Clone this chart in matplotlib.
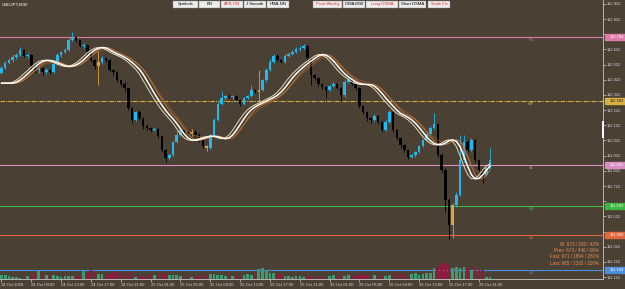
import matplotlib
matplotlib.use("Agg")
import matplotlib.pyplot as plt
from matplotlib.patches import Rectangle
from matplotlib.transforms import blended_transform_factory

plt.rcParams['font.family'] = ['Liberation Sans', 'DejaVu Sans']

# USDJPY M30 candles, 24 Oct 05:00 -> 26 Oct 22:30
first_open = 112.470
closes = [112.500, 112.533, 112.552, 112.572, 112.585, 112.618, 112.579, 112.585, 112.513, 112.487,
          112.500, 112.473, 112.487, 112.473, 112.526, 112.585, 112.605, 112.618, 112.684, 112.704,
          112.684, 112.645, 112.651, 112.605, 112.552, 112.513, 112.539, 112.566, 112.552, 112.487,
          112.473, 112.421, 112.394, 112.368, 112.236, 112.157, 112.210, 112.170, 112.117, 112.104,
          112.091, 112.098, 112.051, 111.959, 111.906, 111.926, 112.012, 112.058, 112.091, 112.078,
          112.065, 112.078, 112.058, 112.025, 111.986, 111.972, 112.058, 112.157, 112.262, 112.302,
          112.315, 112.309, 112.315, 112.289, 112.262, 112.302, 112.315, 112.355, 112.342, 112.355,
          112.421, 112.487, 112.539, 112.579, 112.552, 112.539, 112.579, 112.592, 112.605, 112.625,
          112.632, 112.645, 112.566, 112.454, 112.434, 112.394, 112.374, 112.355, 112.381, 112.394,
          112.368, 112.322, 112.407, 112.421, 112.394, 112.368, 112.249, 112.210, 112.170, 112.157,
          112.183, 112.144, 112.091, 112.144, 112.210, 112.091, 112.038, 111.992, 111.959, 111.913,
          111.926, 111.946, 111.986, 112.025, 112.065, 112.104, 112.131, 111.926, 111.827, 111.630,
          111.465, 111.597, 111.663, 111.893, 112.012, 111.959, 112.025, 111.893, 111.827, 111.794,
          111.841, 111.893]
highs = [112.512, 112.545, 112.566, 112.590, 112.598, 112.640, 112.625, 112.600, 112.592, 112.520,
         112.515, 112.508, 112.497, 112.495, 112.535, 112.598, 112.615, 112.630, 112.700, 112.735,
         112.712, 112.690, 112.662, 112.658, 112.612, 112.560, 112.618, 112.580, 112.575, 112.560,
         112.495, 112.480, 112.430, 112.405, 112.375, 112.245, 112.218, 112.222, 112.180, 112.130,
         112.112, 112.110, 112.105, 112.060, 111.968, 111.940, 112.020, 112.090, 112.100, 112.098,
         112.085, 112.095, 112.088, 112.070, 112.032, 111.995, 112.065, 112.170, 112.275, 112.350,
         112.325, 112.330, 112.325, 112.322, 112.295, 112.310, 112.325, 112.390, 112.362, 112.487,
         112.430, 112.500, 112.560, 112.595, 112.590, 112.560, 112.590, 112.605, 112.620, 112.640,
         112.648, 112.660, 112.652, 112.570, 112.462, 112.440, 112.400, 112.380, 112.390, 112.405,
         112.400, 112.372, 112.420, 112.445, 112.430, 112.400, 112.372, 112.255, 112.218, 112.180,
         112.195, 112.190, 112.150, 112.155, 112.225, 112.215, 112.098, 112.045, 112.000, 111.965,
         111.935, 111.955, 111.995, 112.035, 112.075, 112.118, 112.200, 112.140, 111.940, 111.840,
         111.640, 111.610, 111.680, 112.060, 112.060, 112.025, 112.040, 112.035, 111.900, 111.835,
         111.850, 111.970]
lows = [112.462, 112.490, 112.524, 112.540, 112.560, 112.578, 112.570, 112.566, 112.500, 112.470,
        112.468, 112.455, 112.463, 112.460, 112.465, 112.520, 112.575, 112.596, 112.612, 112.675,
        112.670, 112.636, 112.632, 112.595, 112.540, 112.495, 112.388, 112.525, 112.540, 112.475,
        112.455, 112.405, 112.380, 112.350, 112.220, 112.140, 112.150, 112.160, 112.100, 112.090,
        112.080, 112.082, 112.040, 111.945, 111.880, 111.895, 111.920, 112.005, 112.050, 112.068,
        112.055, 112.050, 112.045, 112.015, 111.975, 111.950, 111.965, 112.050, 112.150, 112.255,
        112.290, 112.300, 112.298, 112.280, 112.250, 112.255, 112.295, 112.308, 112.335, 112.270,
        112.345, 112.410, 112.480, 112.530, 112.545, 112.530, 112.532, 112.570, 112.585, 112.598,
        112.615, 112.625, 112.555, 112.390, 112.420, 112.380, 112.360, 112.300, 112.345, 112.372,
        112.360, 112.280, 112.310, 112.398, 112.385, 112.355, 112.235, 112.195, 112.150, 112.140,
        112.150, 112.130, 112.075, 112.085, 112.138, 112.080, 112.025, 111.975, 111.945, 111.900,
        111.905, 111.915, 111.940, 111.978, 112.018, 112.058, 112.098, 111.915, 111.810, 111.550,
        111.370, 111.380, 111.585, 111.655, 111.880, 111.945, 111.950, 111.880, 111.815, 111.740,
        111.785, 111.835]
doji_bars = [26, 51, 55, 69, 121]
volumes = [440, 420, 330, 220, 200, 150, 250, 300, 320, 650, 850, 560, 430, 450, 420, 300, 250, 310,
           350, 330, 300, 320, 880, 640, 950, 870, 560, 520, 450, 540, 760, 720, 650, 720, 680, 740,
           230, 280, 220, 300, 520, 460, 540, 780, 560, 430, 460, 420, 340, 250, 280, 220, 310, 240,
           520, 560, 480, 540, 450, 380, 360, 420, 330, 410, 350, 440, 540, 460, 620, 1080, 1120, 980,
           640, 620, 560, 650, 320, 300, 250, 320, 290, 240, 280, 220, 300, 230, 290, 250, 340, 420,
           350, 440, 330, 410, 360, 320, 540, 460, 520, 470, 430, 340, 420, 360, 410, 640, 580, 620,
           560, 460, 540, 620, 450, 560, 640, 580, 1150, 1260, 1560, 1680, 1480, 1180, 1260, 1200,
           1280, 1120, 980, 1250, 1060, 980, 240, 220]
ma_start = 112.40

levels = [112.704, 112.283, 111.861, 111.591, 111.399, 111.169]
level_names = ["R1", "WP", "S1", "M1", "S2", "S3"]
level_colors = ["#e07aa8", "#d8b040", "#d88cc0", "#3cb83c", "#e0663c", "#4a8ee0"]

price_ticks = [112.922, 112.822, 112.722, 112.622, 112.522, 112.422, 112.322, 112.222, 112.122,
               112.022, 111.922, 111.822, 111.722, 111.622, 111.522, 111.422, 111.322, 111.222, 111.122]
time_labels = ["24 Oct 2018", "24 Oct 09:00", "24 Oct 13:00", "24 Oct 17:00", "24 Oct 21:00",
               "25 Oct 01:00", "25 Oct 05:00", "25 Oct 09:00", "25 Oct 13:00", "25 Oct 17:00",
               "25 Oct 21:00", "26 Oct 01:00", "26 Oct 05:00", "26 Oct 09:00", "26 Oct 13:00",
               "26 Oct 17:00", "26 Oct 21:00"]
info_lines = ["W: 673 / 280 / 42%", "Prev: 673 / 446 / 66%", "Fast: 671 / 1894 / 281%",
              "Last: 965 / 2102 / 316%"]
buttons = [("Symbols", 173, 198, "black"), ("BN", 199, 220, "black"), ("APB-ON", 221, 243, "#e03020"),
           ("J Smooth", 244, 266, "black"), ("HMA-NN", 267, 289, "black"),
           ("Pivot Weekly", 313, 342, "#e03020"), ("DMA M30", 343, 365, "black"),
           ("Long DSMA", 366, 398, "#e03020"), ("Short DSMA", 399, 426, "black"),
           ("Scale Fix", 428, 450, "#e03020")]

BG = "#4a4034"
opens = [first_open] + closes[:-1]
n = len(closes)


def ema(values, span, start):
    a = 2.0 / (span + 1)
    out = []
    v = start
    for x in values:
        v = v + a * (x - v)
        out.append(v)
    return out


def smooth3(values, span, start):
    # triple-smoothed average
    return ema(ema(ema(values, span, start), span, start), span, start)


def displaced(values, shift, start):
    # moving average drawn shifted forward by `shift` bars
    return [start] * shift + values[:len(values) - shift]


fig = plt.figure(figsize=(6.25, 2.89), dpi=100, facecolor=BG)
ax = fig.add_axes([0, 10 / 289, 603 / 625, 279 / 289], facecolor=BG)
ax.set_xlim(-0.4, 161.3)
ax.set_ylim(111.109, 112.948)

# pivot lines
for lv, name, col in zip(levels, level_names, level_colors):
    ls = (0, (4, 1, 1, 1)) if name == "WP" else "-"
    ax.axhline(lv, color=col, lw=0.8, ls=ls, zorder=1)
    ax.text(142, lv - 0.008, name, color=col, fontsize=2.8, ha="center", va="top", zorder=2)

# volumes
axv = ax.twinx()
axv.set_ylim(0, 29300)
axv.set_axis_off()
for i in range(n):
    c = "#3c9c70" if closes[i] >= opens[i] else "#8a1c40"
    axv.bar(i, volumes[i], width=0.7, color=c, zorder=1)

# candles
for i in range(n):
    o, c, h, l = opens[i], closes[i], highs[i], lows[i]
    if i in doji_bars:
        col = "#e0a040"
    elif c >= o:
        col = "#22b8ee"
    else:
        col = "black"
    ax.vlines(i, l, h, color=col, lw=0.6, zorder=3)
    lo, hi = min(o, c), max(o, c)
    ax.bar(i, max(hi - lo, 0.004), bottom=lo, width=0.68, color=col, zorder=4)

# smoothed, displaced moving averages
idx = list(range(n))
for span, shift, col, lw in [(5, 4, "#8a5a30", 0.6), (4, 5, "#d07838", 0.6),
                             (4, 3, "#e8d8b0", 0.7), (4, 4, "white", 1.1)]:
    sm = smooth3(closes, span, ma_start)
    ax.plot(idx, displaced(sm, shift, ma_start), color=col, lw=lw, zorder=5)

# axes styling
for s in ["top", "left"]:
    ax.spines[s].set_visible(False)
ax.spines["right"].set_color("#c8c8c8")
ax.spines["bottom"].set_color("#c8c8c8")
ax.spines["right"].set_linewidth(0.6)
ax.spines["bottom"].set_linewidth(0.6)
ax.yaxis.tick_right()
ax.set_yticks(price_ticks)
# labels hidden behind the level boxes are left blank
ax.set_yticklabels(["" if min(abs(t - lv) for lv in levels) < 0.035 else f"{t:.3f}"
                    for t in price_ticks])
ax.set_xticks(range(0, 8 * len(time_labels), 8))
ax.set_xticklabels(time_labels, ha="left")
ax.tick_params(axis="both", colors="#c8c8c8", labelcolor="#d8d8d8", labelsize=3.0,
               length=2, width=0.5, pad=1)

# price boxes on right axis
tr = blended_transform_factory(ax.transAxes, ax.transData)
for lv, name, col in zip(levels, level_names, level_colors):
    ax.add_patch(Rectangle((1.003, lv - 0.022), 0.04, 0.044, transform=tr, color=col,
                           clip_on=False, zorder=6))
    tc = "#202020" if name == "WP" else "white"
    ax.text(1.023, lv, f"{lv:.3f}", transform=tr, color=tc, fontsize=3.0,
            ha="center", va="center", clip_on=False, zorder=7)
# current range marker on the price scale
ax.plot([1.0, 1.0], [112.045, 112.144], transform=tr, color="white", lw=1.4,
        clip_on=False, zorder=6)

# overlay in pixel coordinates for text panels
ui = fig.add_axes([0, 0, 1, 1], facecolor="none")
ui.set_xlim(0, 625)
ui.set_ylim(289, 0)
ui.set_axis_off()
ui.text(2, 4.5, "USDJPY,M30", color="white", fontsize=3.2, va="center")
for label, x0, x1, tc in buttons:
    ui.add_patch(Rectangle((x0, 0.5), x1 - x0, 7.5, facecolor="#ececec", edgecolor="#909090", lw=0.3))
    ui.text((x0 + x1) / 2, 4.4, label, color=tc, fontsize=3.0, ha="center", va="center")
for k, line in enumerate(info_lines):
    ui.text(599, 244 + 6.5 * k, line, color="#e89050", fontsize=3.3, ha="right", va="center")

fig.savefig("out.png", dpi=100, facecolor=BG)
